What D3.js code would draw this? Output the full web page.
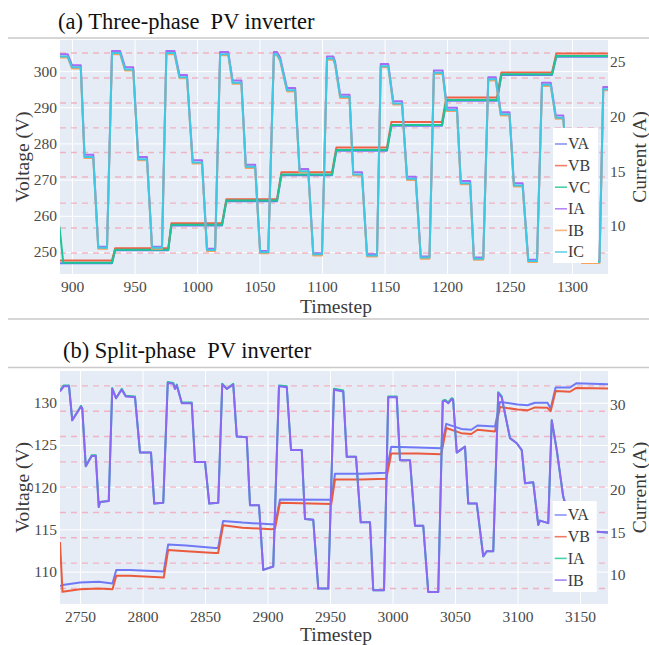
<!DOCTYPE html>
<html>
<head>
<meta charset="utf-8">
<script src="https://cdn.jsdelivr.net/npm/d3@7"></script>
<style>
  body { margin: 0; background: #fff; }
  svg { display: block; font-family: "Liberation Serif", "Times New Roman", serif; }
</style>
</head>
<body>
<svg id="chart" width="649" height="645"></svg>
<script>
// ---------- (a) three-phase: voltages (left axis) ----------
const tV_a = [890, 893, 932, 934.5, 977, 979.5, 1020, 1023.5, 1064, 1067.5, 1108, 1111.5,
  1152, 1155.5, 1196, 1199.5, 1240, 1243.5, 1284, 1287.5, 1329];
const VA_a = [246.9, 246.9, 246.9, 250.5, 250.5, 257.3, 257.3, 264.0, 264.0, 271.2, 271.2, 278.0,
  278.0, 284.9, 284.9, 291.8, 291.8, 298.9, 298.9, 304.0, 304.0];
const VB_a = [247.6, 247.6, 247.6, 251.0, 251.0, 257.9, 257.9, 264.6, 264.6, 272.0, 272.0, 278.9,
  278.9, 285.9, 285.9, 292.7, 292.7, 299.6, 299.6, 304.9, 304.9];
const VC_a = [257.0, 247.0, 247.0, 250.6, 250.6, 257.5, 257.5, 264.2, 264.2, 271.4, 271.4, 278.2,
  278.2, 285.1, 285.1, 292.0, 292.0, 299.1, 299.1, 304.2, 304.2];

// ---------- (a) three-phase: currents (right axis) ----------
const tI_a = [890, 896.5, 900, 907, 910, 917, 921, 928,
  932, 938.5, 942.5, 949, 953, 960, 964, 972,
  975.5, 982, 986, 992, 996.5, 1004, 1008, 1014.5,
  1018.5, 1025, 1028.5, 1035.5, 1039, 1046.5, 1050.5, 1057,
  1061.5, 1064, 1066.5, 1072, 1078.5, 1082, 1089, 1093, 1100,
  1104, 1109, 1110.5, 1114.5, 1122, 1125, 1132, 1136, 1144,
  1147, 1153, 1157, 1164, 1168, 1175, 1179, 1186,
  1189.5, 1196.5, 1200, 1208, 1211, 1218.5, 1221.5, 1229,
  1233, 1239, 1243, 1250, 1253.5, 1260.5, 1265, 1272,
  1276, 1283, 1287, 1293, 1297, 1304, 1308, 1322, 1325, 1329];
const IA_a = [25.7, 25.7, 24.7, 24.7, 16.5, 16.5, 8.1, 8.1,
  26.0, 26.0, 24.5, 24.5, 16.3, 16.3, 8.1, 8.1,
  26.0, 26.0, 23.8, 23.8, 16.0, 16.0, 7.9, 7.9,
  25.9, 25.9, 23.3, 23.3, 15.6, 15.6, 7.7, 7.7,
  25.9, 25.9, 25.4, 22.6, 22.6, 15.2, 15.2, 7.5, 7.5,
  25.5, 25.5, 25.0, 22.0, 22.0, 14.9, 14.9, 7.4, 7.4,
  24.8, 24.8, 21.4, 21.4, 14.5, 14.5, 7.2, 7.2,
  24.2, 24.2, 20.8, 20.8, 14.1, 14.1, 7.1, 7.1,
  23.6, 23.6, 20.4, 20.4, 13.9, 13.9, 6.9, 6.9,
  23.1, 23.1, 20.1, 20.1, 13.6, 13.6, 6.8, 6.8, 22.7, 22.7];
const IB_a = [25.4, 25.4, 24.4, 24.4, 16.2, 16.2, 7.9, 7.9,
  25.7, 25.7, 24.2, 24.2, 16.0, 16.0, 7.9, 7.9,
  25.7, 25.7, 23.5, 23.5, 15.7, 15.7, 7.7, 7.7,
  25.6, 25.6, 23.0, 23.0, 15.3, 15.3, 7.5, 7.5,
  25.6, 25.6, 25.1, 22.3, 22.3, 14.9, 14.9, 7.3, 7.3,
  25.2, 25.2, 24.7, 21.7, 21.7, 14.6, 14.6, 7.2, 7.2,
  24.5, 24.5, 21.1, 21.1, 14.2, 14.2, 7.0, 7.0,
  23.9, 23.9, 20.5, 20.5, 13.8, 13.8, 6.9, 6.9,
  23.3, 23.3, 20.1, 20.1, 13.6, 13.6, 6.7, 6.7,
  22.8, 22.8, 19.8, 19.8, 13.3, 13.3, 6.6, 6.6, 22.4, 22.4];
const IC_a = [25.5, 25.5, 24.5, 24.5, 16.3, 16.3, 8.0, 8.0,
  25.8, 25.8, 24.3, 24.3, 16.1, 16.1, 8.0, 8.0,
  25.8, 25.8, 23.6, 23.6, 15.8, 15.8, 7.8, 7.8,
  25.7, 25.7, 23.1, 23.1, 15.4, 15.4, 7.6, 7.6,
  25.7, 25.7, 25.2, 22.4, 22.4, 15.0, 15.0, 7.4, 7.4,
  25.3, 25.3, 24.8, 21.8, 21.8, 14.7, 14.7, 7.3, 7.3,
  24.6, 24.6, 21.2, 21.2, 14.3, 14.3, 7.1, 7.1,
  24.0, 24.0, 20.6, 20.6, 13.9, 13.9, 7.0, 7.0,
  23.4, 23.4, 20.2, 20.2, 13.7, 13.7, 6.8, 6.8,
  22.9, 22.9, 19.9, 19.9, 13.4, 13.4, 6.7, 6.7, 22.5, 22.5];

const xTicks_a = [900, 950, 1000, 1050, 1100, 1150, 1200, 1250, 1300];
const vTicks_a = [250, 260, 270, 280, 290, 300];
const iTicks_a = [10, 15, 20, 25];
const dashV_a = [249.7, 256.6, 263.5, 270.7, 277.5, 284.3, 291.2, 298.1, 305.0];

// ---------- (b) split-phase: voltages ----------
const tV_b = [2734, 2736, 2750, 2765, 2776, 2779, 2790, 2817, 2820.5, 2835, 2858, 2860.5, 2864.5,
  2880, 2903, 2906, 2910, 2951, 2954, 2975, 2995, 2999, 3020, 3039, 3043, 3055, 3063, 3068,
  3082, 3086, 3100, 3108, 3114, 3124, 3126.5, 3130.5, 3142, 3147, 3172.4];
const VA_b = [108.3, 108.4, 108.7, 108.8, 108.6, 110.2, 110.2, 110.0, 113.2, 113.1, 112.8, 112.8, 116.0,
  115.8, 115.6, 115.6, 118.55, 118.5, 121.6, 121.6, 121.7, 124.8, 124.7, 124.6, 127.5, 126.9, 126.8, 127.3,
  127.2, 130.1, 129.8, 129.7, 130.0, 130.0, 129.3, 131.8, 131.8, 132.3, 132.2];
const VB_b = [113.5, 107.6, 107.9, 108.0, 107.9, 109.5, 109.5, 109.3, 112.55, 112.4, 112.2, 112.2, 115.5,
  115.2, 115.0, 115.1, 118.15, 118.0, 120.9, 120.9, 121.0, 124.0, 124.0, 123.9, 127.0, 126.4, 126.3, 126.8,
  126.6, 129.5, 129.2, 129.1, 129.45, 129.4, 129.0, 131.4, 131.3, 131.75, 131.7];

// ---------- (b) split-phase: currents ----------
const tI_b = [2734, 2737, 2741.2, 2743.8, 2750.8, 2751.8, 2754.6, 2759.4, 2762.6, 2765, 2766, 2773,
  2775.8, 2778.8, 2781, 2783.4, 2786.6, 2794, 2798, 2806.8, 2809.4, 2816.6,
  2820.2, 2824.6, 2826, 2827.4, 2831.4, 2839.4, 2842, 2850, 2853.4, 2860.6,
  2863.8, 2867.4, 2872.6, 2875.4, 2883.4, 2886, 2893.2, 2896.6, 2904.6,
  2909.2, 2915.4, 2918.8, 2927.4, 2930, 2936.6, 2940.6, 2948.6,
  2953.2, 2960.6, 2963.4, 2970.8, 2974.6, 2982, 2984.6, 2993.2,
  2996.6, 3003.4, 3006, 3014, 3018, 3024.6, 3028.6, 3036.6,
  3040.2, 3042, 3044.6, 3047.4, 3048.5, 3051.4, 3058, 3060.6, 3067.4, 3072.6, 3075.4, 3080.6,
  3084.6, 3087.4, 3088.6, 3094, 3099.4, 3103.4, 3106, 3112.6, 3116.6, 3118, 3124.6,
  3127.4, 3131.4, 3136.6, 3145, 3163.4, 3172.4];
const IA_b = [31.7, 32.3, 32.3, 28.2, 29.9, 29.6, 22.8, 24.1, 24.1, 18.0, 18.6, 18.7,
  32.0, 30.8, 31.3, 31.9, 31.1, 31.0, 24.4, 24.4, 18.4, 18.5,
  32.7, 32.6, 31.9, 32.4, 30.3, 30.3, 23.3, 23.3, 18.4, 18.5,
  32.5, 31.9, 32.5, 26.3, 26.2, 18.2, 18.2, 10.6, 11.0,
  32.3, 32.2, 24.7, 24.7, 16.6, 16.5, 8.4, 8.4,
  31.9, 31.7, 23.9, 23.9, 16.2, 16.2, 8.2, 8.2,
  31.0, 31.0, 23.5, 23.5, 15.8, 15.8, 8.0, 8.0,
  30.5, 30.6, 30.3, 30.8, 30.7, 24.4, 25.1, 18.4, 18.4, 12.2, 12.8, 12.8,
  31.5, 31.0, 30.0, 26.1, 25.5, 24.7, 20.8, 20.9, 15.9, 16.4, 16.1,
  28.2, 24.7, 19.2, 15.2, 15.1, 15.0];
const IB_b = [31.6, 32.2, 32.2, 28.2, 29.8, 29.6, 22.8, 24.0, 24.0, 18.0, 18.6, 18.7,
  31.9, 30.8, 31.3, 31.8, 31.0, 30.9, 24.4, 24.4, 18.4, 18.5,
  32.6, 32.5, 31.9, 32.3, 30.2, 30.2, 23.3, 23.3, 18.4, 18.5,
  32.4, 31.9, 32.4, 26.3, 26.2, 18.2, 18.2, 10.6, 11.0,
  32.2, 32.1, 24.7, 24.7, 16.6, 16.5, 8.4, 8.4,
  31.8, 31.6, 23.9, 23.9, 16.2, 16.2, 8.2, 8.2,
  30.9, 30.9, 23.5, 23.5, 15.8, 15.8, 8.0, 8.0,
  30.4, 30.5, 30.2, 30.7, 30.6, 24.4, 25.1, 18.4, 18.4, 12.2, 12.8, 12.8,
  31.4, 30.9, 30.0, 26.1, 25.5, 24.7, 20.8, 20.9, 15.9, 16.4, 16.1,
  28.2, 24.7, 19.2, 15.2, 15.1, 15.0];

const xTicks_b = [2750, 2800, 2850, 2900, 2950, 3000, 3050, 3100, 3150];
const vTicks_b = [110, 115, 120, 125, 130];
const iTicks_b = [10, 15, 20, 25, 30];
const dashV_b = [108, 111, 114, 117, 120, 123, 126, 129, 132];

const svg = d3.select("#chart");

const panelA = {
  title: "(a) Three-phase  PV inverter", titleX: 58, titleY: 29, sepTop: 38, sepBottom: 319,
  left: 60, top: 40, width: 548, height: 234, xTitleY: 313,
  xDomain: [890.4, 1328.8], vDomain: [243.9, 308.6], iDomain: [5.6, 27.0],
  xTicks: xTicks_a, vTicks: vTicks_a, iTicks: iTicks_a, dash: dashV_a,
  series: [
    { name: "VA", color: "#6f79f6", t: tV_a, v: VA_a, axis: "v" },
    { name: "VB", color: "#ef6146", t: tV_a, v: VB_a, axis: "v" },
    { name: "VC", color: "#1bc596", t: tV_a, v: VC_a, axis: "v" },
    { name: "IA", color: "#a56bf5", t: tI_a, v: IA_a, axis: "i" },
    { name: "IB", color: "#f9a35f", t: tI_a, v: IB_a, axis: "i" },
    { name: "IC", color: "#3ec8e4", t: tI_a, v: IC_a, axis: "i" }
  ],
  legend: { x: 493, y: 88, w: 45, h: 135, first: 16, step: 21.6 }
};

const panelB = {
  title: "(b) Split-phase  PV inverter", titleX: 63, titleY: 358, sepTop: 367.5, sepBottom: null,
  left: 60, top: 371, width: 548, height: 233, xTitleY: 641,
  xDomain: [2734, 3172.4], vDomain: [106.16, 133.76], iDomain: [6.59, 34.0],
  xTicks: xTicks_b, vTicks: vTicks_b, iTicks: iTicks_b, dash: dashV_b,
  series: [
    { name: "VA", color: "#6f79f6", t: tV_b, v: VA_b, axis: "v" },
    { name: "VB", color: "#ea5b3e", t: tV_b, v: VB_b, axis: "v" },
    { name: "IA", color: "#1bc596", t: tI_b, v: IA_b, axis: "i" },
    { name: "IB", color: "#8c66f4", t: tI_b, v: IB_b, axis: "i" }
  ],
  legend: { x: 492.7, y: 130, w: 44, h: 91, first: 14, step: 21.7 }
};

function drawPanel(p, idx) {
  const x = d3.scaleLinear().domain(p.xDomain).range([0, p.width]);
  const yV = d3.scaleLinear().domain(p.vDomain).range([p.height, 0]);
  const yI = d3.scaleLinear().domain(p.iDomain).range([p.height, 0]);

  svg.append("text")
    .attr("x", p.titleX).attr("y", p.titleY)
    .attr("font-size", 22.5).attr("fill", "#111")
    .attr("xml:space", "preserve")
    .style("white-space", "pre")
    .text(p.title);

  [p.sepTop, p.sepBottom].filter(d => d !== null).forEach(yy => {
    svg.append("line")
      .attr("x1", 8).attr("x2", 649).attr("y1", yy).attr("y2", yy)
      .attr("stroke", "#c9c9c9").attr("stroke-width", 1.6);
  });

  const g = svg.append("g").attr("transform", `translate(${p.left},${p.top})`);

  g.append("rect")
    .attr("width", p.width).attr("height", p.height)
    .attr("fill", "#e6ecf6");

  // white grid
  const gx = g.append("g")
    .attr("transform", `translate(0,${p.height})`)
    .call(d3.axisBottom(x).tickValues(p.xTicks).tickSize(p.height).tickFormat(""));
  gx.selectAll("line").attr("transform", `translate(0,${-p.height})`);
  const gy = g.append("g")
    .call(d3.axisLeft(yV).tickValues(p.vTicks).tickSize(-p.width).tickFormat(""));
  [gx, gy].forEach(a => {
    a.select(".domain").remove();
    a.selectAll("line").attr("stroke", "#fff").attr("stroke-width", 1);
  });

  // pink dashed guides
  g.selectAll("line.dash").data(p.dash).join("line")
    .attr("class", "dash")
    .attr("x1", 0).attr("x2", p.width)
    .attr("y1", d => yV(d)).attr("y2", d => yV(d))
    .attr("stroke", "#f2aabb").attr("stroke-width", 1.4)
    .attr("stroke-dasharray", "6,5").attr("opacity", 0.85);

  // traces
  const clipId = "clip" + idx;
  g.append("clipPath").attr("id", clipId)
    .append("rect").attr("width", p.width).attr("height", p.height);
  const traces = g.append("g").attr("clip-path", `url(#${clipId})`);
  p.series.forEach(s => {
    const ys = s.axis === "v" ? yV : yI;
    const line = d3.line().x(d => x(d[0])).y(d => ys(d[1]));
    traces.append("path")
      .datum(d3.zip(s.t, s.v))
      .attr("fill", "none")
      .attr("stroke", s.color)
      .attr("stroke-width", 2)
      .attr("stroke-linejoin", "round")
      .attr("d", line);
  });

  // axes labels
  const fmt = d => d;
  const ax = g.append("g").attr("transform", `translate(0,${p.height})`)
    .call(d3.axisBottom(x).tickValues(p.xTicks).tickSize(0).tickPadding(7).tickFormat(fmt));
  const al = g.append("g")
    .call(d3.axisLeft(yV).tickValues(p.vTicks).tickSize(0).tickPadding(3).tickFormat(fmt));
  const ar = g.append("g").attr("transform", `translate(${p.width},0)`)
    .call(d3.axisRight(yI).tickValues(p.iTicks).tickSize(0).tickPadding(2).tickFormat(fmt));
  [ax, al, ar].forEach(a => {
    a.select(".domain").remove();
    a.selectAll("text")
      .attr("font-family", "Liberation Serif, Times New Roman, serif")
      .attr("font-size", 15.5).attr("fill", "#4a4a4a");
  });

  // axis titles
  svg.append("text")
    .attr("x", p.left + p.width / 2 + 2).attr("y", p.xTitleY)
    .attr("text-anchor", "middle").attr("font-size", 19.5).attr("fill", "#3a3a3a")
    .text("Timestep");
  svg.append("text")
    .attr("transform", `translate(29,${p.top + p.height / 2}) rotate(-90)`)
    .attr("text-anchor", "middle").attr("font-size", 19.5).attr("fill", "#3a3a3a")
    .text("Voltage (V)");
  svg.append("text")
    .attr("transform", `translate(646,${p.top + p.height / 2}) rotate(-90)`)
    .attr("text-anchor", "middle").attr("font-size", 19.5).attr("fill", "#3a3a3a")
    .text("Current (A)");

  // legend
  const lg = g.append("g").attr("transform", `translate(${p.legend.x},${p.legend.y})`);
  lg.append("rect").attr("width", p.legend.w).attr("height", p.legend.h).attr("fill", "#fff");
  const items = lg.selectAll("g.item").data(p.series).join("g")
    .attr("class", "item")
    .attr("transform", (d, i) => `translate(0,${p.legend.first + i * p.legend.step})`);
  items.append("line")
    .attr("x1", 2).attr("x2", 14).attr("y1", 0).attr("y2", 0)
    .attr("stroke", d => d.color).attr("stroke-width", 1.6).attr("opacity", 0.8);
  items.append("text")
    .attr("x", 15).attr("y", 0).attr("dy", "0.34em")
    .attr("font-size", 16).attr("fill", "#3a3a3a")
    .text(d => d.name);
}

drawPanel(panelA, 0);
drawPanel(panelB, 1);
</script>
</body>
</html>
